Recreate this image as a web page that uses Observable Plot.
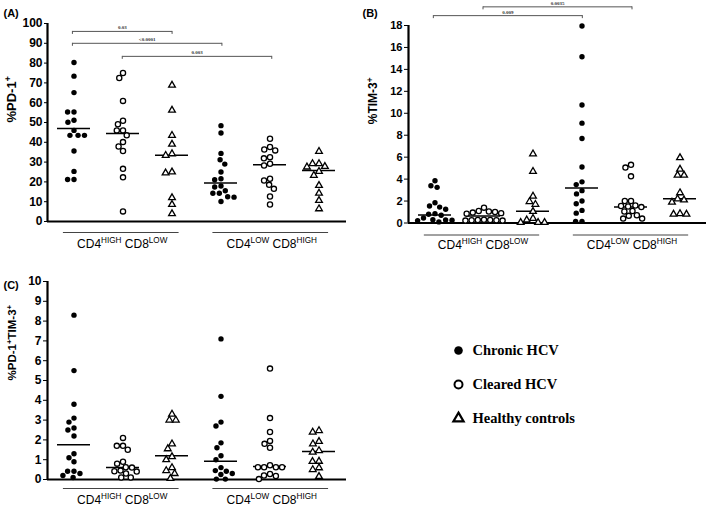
<!DOCTYPE html>
<html>
<head>
<meta charset="utf-8">
<script src="https://cdn.jsdelivr.net/npm/d3@7"></script>
<script src="https://cdn.jsdelivr.net/npm/@observablehq/plot@0.6"></script>
<style>
  html, body { margin: 0; padding: 0; background: #fff; }
  #root { position: relative; width: 709px; height: 511px; overflow: hidden; background: #fff; }
</style>
</head>
<body>
<div id="root"></div>
<script>
// ---------------- DATA ----------------
const seriesNames = ["Chronic HCV", "Cleared HCV", "Healthy controls"];
const groupLabels = ["CD4^{HIGH} CD8^{LOW}", "CD4^{LOW} CD8^{HIGH}"];

// Panel A: %PD-1+
const pd1ChronicHigh = [80.3, 73.4, 65.1, 55.3, 55.3, 51.1, 50.1, 46.0, 43.5, 43.5, 43.5, 35.6, 25.3, 21.2, 21.2];
const pd1ClearedHigh = [75.0, 72.5, 60.9, 50.9, 49.1, 46.0, 46.0, 43.5, 40.1, 37.9, 35.6, 26.6, 22.3, 5.1];
const pd1HealthyHigh = [68.8, 56.2, 43.5, 39.0, 34.2, 33.4, 25.0, 24.5, 12.0, 8.6, 3.9];
const pd1ChronicLow  = [48.4, 44.7, 34.4, 31.2, 29.0, 25.0, 21.6, 21.1, 17.9, 17.4, 15.5, 14.3, 14.3, 12.5, 12.3, 10.1];
const pd1ClearedLow  = [41.8, 37.6, 36.4, 35.9, 32.5, 31.9, 29.2, 28.3, 21.6, 20.7, 18.5, 16.5, 12.6, 8.6];
const pd1HealthyLow  = [35.4, 29.2, 29.2, 27.8, 27.5, 25.3, 23.3, 18.2, 14.3, 10.6, 6.4];
const pd1Medians     = [47.0, 44.4, 33.4, 19.4, 28.7, 25.8];
const pd1Ticks       = [0, 10, 20, 30, 40, 50, 60, 70, 80, 90, 100];
const pd1Comparisons = [
  {a: 0, b: 2, level: 96.0, label: "0.03"},
  {a: 0, b: 3, level: 90.0, label: "<0.0001"},
  {a: 1, b: 4, level: 83.4, label: "0.003"}
];

// Panel B: %TIM-3+
const tim3ChronicHigh = [3.85, 3.4, 3.25, 1.85, 1.55, 1.45, 1.25, 0.85, 0.8, 0.7, 0.45, 0.3, 0.28, 0.25, 0.22, 0.1];
const tim3ClearedHigh = [1.4, 1.1, 1.05, 1.0, 0.95, 0.9, 0.85, 0.3, 0.28, 0.28, 0.25, 0.25, 0.22, 0.22];
const tim3HealthyHigh = [6.3, 4.7, 2.45, 1.95, 1.7, 1.05, 0.42, 0.27, 0.05, 0.05, 0.05];
const tim3ChronicLow  = [17.95, 15.15, 10.75, 9.1, 7.7, 5.1, 3.75, 3.5, 2.95, 2.65, 2.0, 1.75, 1.15, 0.9, 0.15, 0.15];
const tim3ClearedLow  = [5.3, 5.05, 4.25, 2.0, 2.0, 1.6, 1.55, 1.5, 1.45, 1.1, 1.05, 0.7, 0.65, 0.4, 0.4];
const tim3HealthyLow  = [5.95, 4.9, 4.35, 4.35, 2.75, 2.2, 2.1, 1.9, 0.85, 0.8, 0.8];
const tim3Medians     = [0.73, 0.64, 1.06, 3.18, 1.45, 2.2];
const tim3Ticks       = [0, 2, 4, 6, 8, 10, 12, 14, 16, 18];
const tim3Comparisons = [
  {a: 0, b: 3, level: 18.9, label: "0.009"},
  {a: 1, b: 4, level: 19.7, label: "0.0035"}
];

// Panel C: %PD-1+TIM-3+
const dpChronicHigh = [8.3, 5.5, 3.8, 3.1, 2.9, 2.6, 2.5, 2.2, 1.3, 1.1, 0.9, 0.42, 0.42, 0.3, 0.2, 0.1];
const dpClearedHigh = [2.1, 1.7, 1.7, 1.5, 0.9, 0.8, 0.62, 0.6, 0.45, 0.42, 0.4, 0.3, 0.1, 0.1];
const dpHealthyHigh = [3.3, 3.0, 3.0, 1.8, 1.55, 1.15, 1.0, 0.6, 0.45, 0.3, 0.05];
const dpChronicLow  = [7.1, 4.2, 2.9, 2.7, 1.85, 1.6, 1.2, 1.0, 0.6, 0.45, 0.42, 0.3, 0.25, 0.02, 0.02];
const dpClearedLow  = [5.6, 3.1, 2.4, 1.95, 1.8, 1.6, 0.72, 0.62, 0.62, 0.62, 0.62, 0.28, 0.2, 0.18, 0.02];
const dpHealthyLow  = [2.47, 2.39, 1.92, 1.8, 1.46, 1.38, 0.92, 0.91, 0.59, 0.5, 0.15];
const dpMedians     = [1.76, 0.6, 1.2, 0.92, 0.66, 1.41];
const dpTicks       = [0, 1, 2, 3, 4, 5, 6, 7, 8, 9, 10];

// ---------------- LAYOUT ----------------
const FONT = "'Liberation Sans', Arial, Helvetica, sans-serif";
const SERIF = "'Liberation Serif', 'Times New Roman', serif";

const panels = [
  {letter: "(A)", left: 0, top: 0, width: 355, height: 262, mt: 23, mr: 9, mb: 41, ml: 47,
   yDomain: [0, 100], ticks: pd1Ticks, tickSize: 3, tickFont: 12,
   ylabel: "%PD-1^{+}", ylabelSize: 13, ylabelDx: -36, letterDx: -44, letterDy: -14,
   columns: [pd1ChronicHigh, pd1ClearedHigh, pd1HealthyHigh, pd1ChronicLow, pd1ClearedLow, pd1HealthyLow],
   medians: pd1Medians, comps: pd1Comparisons, bracketDy: 11, labelDy: 26},
  {letter: "(B)", left: 360, top: 0, width: 349, height: 262, mt: 25, mr: 3, mb: 39.5, ml: 48,
   yDomain: [0, 18], ticks: tim3Ticks, tickSize: 4, tickFont: 11,
   ylabel: "%TIM-3^{+}", ylabelSize: 12, ylabelDx: -35, letterDx: -46, letterDy: -16,
   columns: [tim3ChronicHigh, tim3ClearedHigh, tim3HealthyHigh, tim3ChronicLow, tim3ClearedLow, tim3HealthyLow],
   medians: tim3Medians, comps: tim3Comparisons, bracketDy: 12, labelDy: 26},
  {letter: "(C)", left: 0, top: 260, width: 355, height: 251, mt: 21, mr: 9, mb: 32, ml: 47,
   yDomain: [0, 10], ticks: dpTicks, tickSize: 4, tickFont: 12,
   ylabel: "%PD-1^{+}TIM-3^{+}", ylabelSize: 11.5, ylabelDx: -35, letterDx: -44, letterDy: 0,
   columns: [dpChronicHigh, dpClearedHigh, dpHealthyHigh, dpChronicLow, dpClearedLow, dpHealthyLow],
   medians: dpMedians, comps: [], bracketDy: 9, labelDy: 24}
];

const root = document.getElementById("root");

function place(svg, left, top) {
  svg.style.position = "absolute";
  svg.style.left = left + "px";
  svg.style.top = top + "px";
  root.appendChild(svg);
  supify(svg);
}

function supify(svg) {
  svg.querySelectorAll("text").forEach(el => {
    const s = el.textContent;
    if (!s.includes("^{")) return;
    const fs = parseFloat(getComputedStyle(el).fontSize) || 12;
    const shift = 0.38 * fs;
    el.textContent = "";
    let raised = false;
    s.split(/\^\{([^}]*)\}/).forEach((part, i) => {
      if (!part) return;
      const t = document.createElementNS("http://www.w3.org/2000/svg", "tspan");
      t.textContent = part;
      const sup = i % 2 === 1;
      if (sup && !raised) { t.setAttribute("dy", -shift); raised = true; }
      else if (!sup && raised) { t.setAttribute("dy", shift); raised = false; }
      if (sup) t.setAttribute("font-size", (fs * 0.68).toFixed(2));
      el.appendChild(t);
    });
  });
}

const groups = [
  {first: 0, last: 2, mid: 1, label: groupLabels[0]},
  {first: 3, last: 5, mid: 4, label: groupLabels[1]}
];

function basePlot(p) {
  const xDomain = [-0.5, 5.5];
  const ends = p.comps.flatMap(c => [{x: c.a, level: c.level}, {x: c.b, level: c.level}]);
  return Plot.plot({
    width: p.width, height: p.height,
    marginTop: p.mt, marginRight: p.mr, marginBottom: p.mb, marginLeft: p.ml,
    style: {background: "transparent", fontFamily: FONT, fontSize: p.tickFont + "px", fontWeight: "bold", color: "black", overflow: "visible"},
    x: {domain: xDomain, axis: null},
    y: {domain: p.yDomain, ticks: p.ticks, tickSize: p.tickSize, tickPadding: 2, label: null, tickFormat: d => String(d)},
    marks: [
      Plot.ruleY([0], {strokeWidth: 2.2, stroke: "black"}),
      Plot.ruleX([xDomain[0]], {strokeWidth: 2.2, stroke: "black"}),
      Plot.ruleY(groups, {x1: "first", x2: "last", y: () => 0, dy: p.bracketDy, insetLeft: -9, insetRight: -7, stroke: "#444", strokeWidth: 1}),
      Plot.text(groups, {x: "mid", text: "label", frameAnchor: "bottom", dy: p.labelDy, fontSize: 12, fontWeight: "normal", fontFamily: FONT, fill: "black"}),
      Plot.link(p.comps, {x1: "a", x2: "b", y1: "level", y2: "level", stroke: "#555", strokeWidth: 1}),
      Plot.ruleX(ends, {x: "x", y1: "level", y2: "level", insetBottom: -3, stroke: "#555", strokeWidth: 1}),
      Plot.text(p.comps, {x: d => (d.a + d.b) / 2, y: "level", text: "label", dy: -2, lineAnchor: "bottom", fontSize: 5, fontFamily: SERIF, fontWeight: "bold", fill: "#333"}),
      Plot.text([p.ylabel], {frameAnchor: "left", rotate: -90, dx: p.ylabelDx, fontSize: p.ylabelSize, fontWeight: "bold", fontFamily: FONT, fill: "black"}),
      Plot.text([p.letter], {frameAnchor: "top-left", textAnchor: "start", dx: p.letterDx, dy: p.letterDy, fontSize: 11, fontWeight: "bold", fontFamily: FONT, fill: "black"})
    ]
  });
}

function dotsPlot(p) {
  const pts = p.columns.flatMap((vals, col) => vals.map(value => ({col, series: col % 3, value})));
  const med = p.medians.map((value, col) => ({col, value}));
  return Plot.plot({
    width: p.width, height: p.height,
    marginTop: p.mt, marginRight: p.mr, marginBottom: p.mb, marginLeft: p.ml,
    style: {background: "transparent", overflow: "visible"},
    fx: {domain: d3.range(6), paddingInner: 0.32, paddingOuter: 0.16, axis: null, label: null},
    y: {domain: p.yDomain, axis: null},
    marks: [
      Plot.tickY(med, {fx: "col", y: "value", stroke: "black", strokeWidth: 1.5}),
      Plot.dot(pts.filter(d => d.series === 0), Plot.dodgeX({anchor: "middle", padding: 1.0}, {fx: "col", y: "value", r: 2.7, fill: "black", stroke: "none"})),
      Plot.dot(pts.filter(d => d.series === 1), Plot.dodgeX({anchor: "middle", padding: 1.0}, {fx: "col", y: "value", r: 2.6, fill: "white", stroke: "black", strokeWidth: 1.3})),
      Plot.dot(pts.filter(d => d.series === 2), Plot.dodgeX({anchor: "middle", padding: 1.5}, {fx: "col", y: "value", r: 2.5, symbol: "triangle", fill: "white", stroke: "black", strokeWidth: 1.3}))
    ]
  });
}

for (const p of panels) {
  place(basePlot(p), p.left, p.top);
  place(dotsPlot(p), p.left, p.top);
}

// Legend
const legendRows = seriesNames.map(name => ({name}));
const legend = Plot.plot({
  width: 265, height: 120, marginTop: 25, marginBottom: 27, marginLeft: 14, marginRight: 0,
  style: {background: "transparent", overflow: "visible"},
  x: {domain: [0, 1], axis: null},
  y: {type: "point", domain: seriesNames, padding: 0, axis: null},
  marks: [
    Plot.dot([legendRows[0]], {y: "name", frameAnchor: "left", r: 4.3, fill: "black", stroke: "none"}),
    Plot.dot([legendRows[1]], {y: "name", frameAnchor: "left", r: 4, fill: "white", stroke: "black", strokeWidth: 2}),
    Plot.dot([legendRows[2]], {y: "name", frameAnchor: "left", r: 3.8, symbol: "triangle", fill: "white", stroke: "black", strokeWidth: 2.2}),
    Plot.text(legendRows, {y: "name", text: "name", frameAnchor: "left", textAnchor: "start", dx: 14, fontSize: 14.5, fontWeight: "bold", fontFamily: SERIF, fill: "black"})
  ]
});
place(legend, 444, 325);
</script>
</body>
</html>
